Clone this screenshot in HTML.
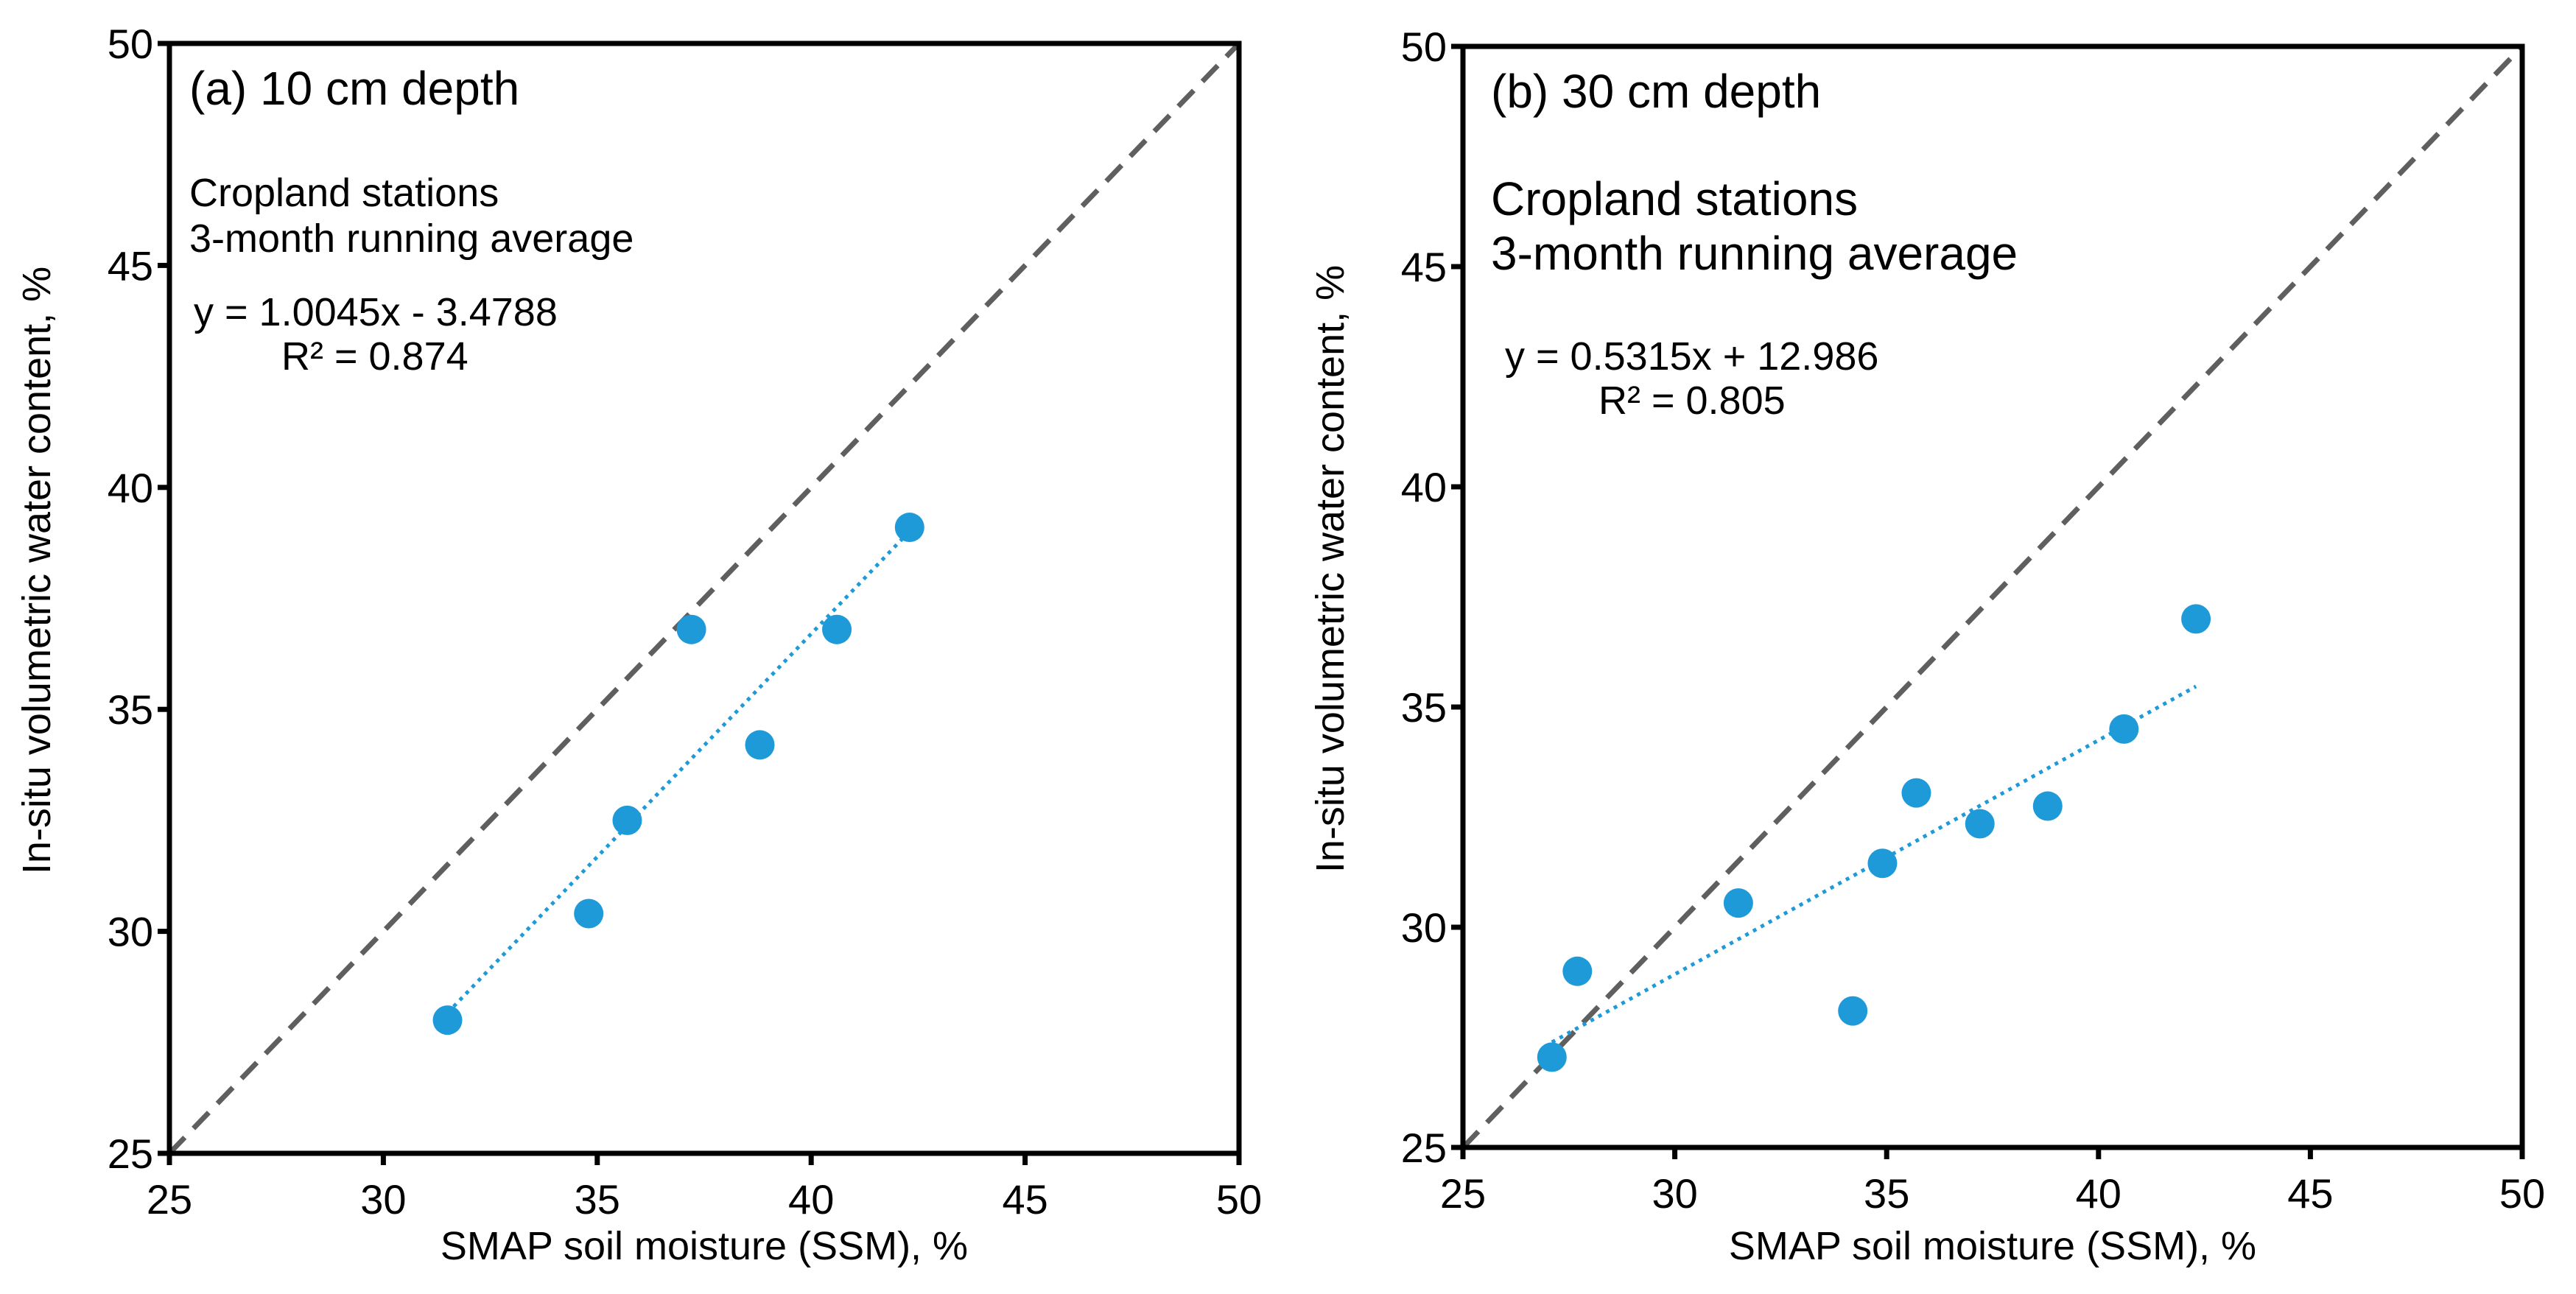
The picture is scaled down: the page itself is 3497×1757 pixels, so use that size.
<!DOCTYPE html>
<html><head><meta charset="utf-8"><style>
html,body{margin:0;padding:0;background:#fff}
svg{display:block;font-family:"Liberation Sans",Arial,sans-serif}
</style></head><body>
<svg id="fig" width="3497" height="1757" viewBox="0 0 3497 1757" xmlns="http://www.w3.org/2000/svg"></svg>
<script>
const ticks = [25,30,35,40,45,50];
const tickLabels = ["25","30","35","40","45","50"];
const aX = [31.5,34.8,35.7,37.2,38.8,40.6,42.3];
const aY = [28.0,30.4,32.5,36.8,34.2,36.8,39.1];
const aSlope = 1.0045, aIntercept = -3.4788;
const bX = [27.1,27.7,31.5,34.2,34.9,35.7,37.2,38.8,40.6,42.3];
const bY = [27.05,29.0,30.55,28.1,31.45,33.05,32.35,32.75,34.5,37.0];
const bSlope = 0.5315, bIntercept = 12.986;

const NS="http://www.w3.org/2000/svg";
const svg=document.getElementById('fig');
function mk(tag,attrs,parent,text){const e=document.createElementNS(NS,tag);for(const k in attrs)e.setAttribute(k,attrs[k]);if(text!==undefined)e.textContent=text;(parent||svg).appendChild(e);return e;}

function panel(cfg){
  const g=mk('g',{});
  
  
  const sx=v=>cfg.x0+(v-25)/25*(cfg.x1-cfg.x0);
  const sy=v=>cfg.y1-(v-25)/25*(cfg.y1-cfg.y0);
  const d=mk('line',{x1:sx(25),y1:sy(25),x2:sx(50),y2:sy(50),stroke:'#5f5f5f','stroke-width':7,'stroke-dasharray':'30 17'},g);
  
  
  const xs=cfg.xs, ys=cfg.ys;
  const mn=Math.min(...xs), mx=Math.max(...xs);
  const t=mk('line',{x1:sx(mn),y1:sy(cfg.m*mn+cfg.c),x2:sx(mx),y2:sy(cfg.m*mx+cfg.c),stroke:'#1f9ad9','stroke-width':5,'stroke-dasharray':'5 7'},g);
  
  
  for(let i=0;i<xs.length;i++){
    const p=mk('circle',{cx:sx(xs[i]),cy:sy(ys[i]),r:20,fill:'#1f9ad9'},g);
    
    
  }
  const f=mk('rect',{x:cfg.x0,y:cfg.y0,width:cfg.x1-cfg.x0,height:cfg.y1-cfg.y0,fill:'none',stroke:'#000','stroke-width':7},g);
  
  
  ticks.forEach((v,i)=>{
    mk('line',{x1:sx(v),y1:cfg.y1,x2:sx(v),y2:cfg.y1+16,stroke:'#000','stroke-width':7},g);
    mk('line',{x1:cfg.x0-16,y1:sy(v),x2:cfg.x0,y2:sy(v),stroke:'#000','stroke-width':7},g);
    const xl=mk('text',{x:sx(v),y:cfg.y1+82,'font-size':56,'text-anchor':'middle',fill:'#000'},g,tickLabels[i]);
    
    
    const yl=mk('text',{x:cfg.x0-22,y:sy(v)+20,'font-size':56,'text-anchor':'end',fill:'#000'},g,tickLabels[i]);
    
    
  });
  const xt=mk('text',{x:(cfg.x0+cfg.x1)/2,y:1710,'font-size':54,'text-anchor':'middle'},g,'SMAP soil moisture (SSM), %');
  
  
  const yx=cfg.x0-162, yc=(cfg.y0+cfg.y1)/2-38;
  const yt=mk('text',{x:yx,y:yc,'font-size':54,'text-anchor':'middle',transform:`rotate(-90 ${yx} ${yc})`},g,'In-situ volumetric water content, %');
  
  
  cfg.texts.forEach(tx=>{
    const e=mk('text',{x:tx[0],y:tx[1],'font-size':tx[2]},g,tx[3]);
    
    
  });
}
panel({name:'panel-a',x0:230,x1:1682,y0:59,y1:1566,xs:aX,ys:aY,m:aSlope,c:aIntercept,texts:[
  [257,142,64,'(a) 10 cm depth','panel-title'],
  [257,280,54,'Cropland stations','annotation-line1'],
  [257,342,54,'3-month running average','annotation-line2'],
  [263,442,54,'y = 1.0045x - 3.4788','regression-equation'],
  [382,502,54,'R² = 0.874','r-squared']]});
panel({name:'panel-b',x0:1986,x1:3424,y0:63,y1:1558,xs:bX,ys:bY,m:bSlope,c:bIntercept,texts:[
  [2024,146,64,'(b) 30 cm depth','panel-title'],
  [2024,292,64,'Cropland stations','annotation-line1'],
  [2024,366,64,'3-month running average','annotation-line2'],
  [2043,502,54,'y = 0.5315x + 12.986','regression-equation'],
  [2170,562,54,'R² = 0.805','r-squared']]});
</script>
</body></html>
